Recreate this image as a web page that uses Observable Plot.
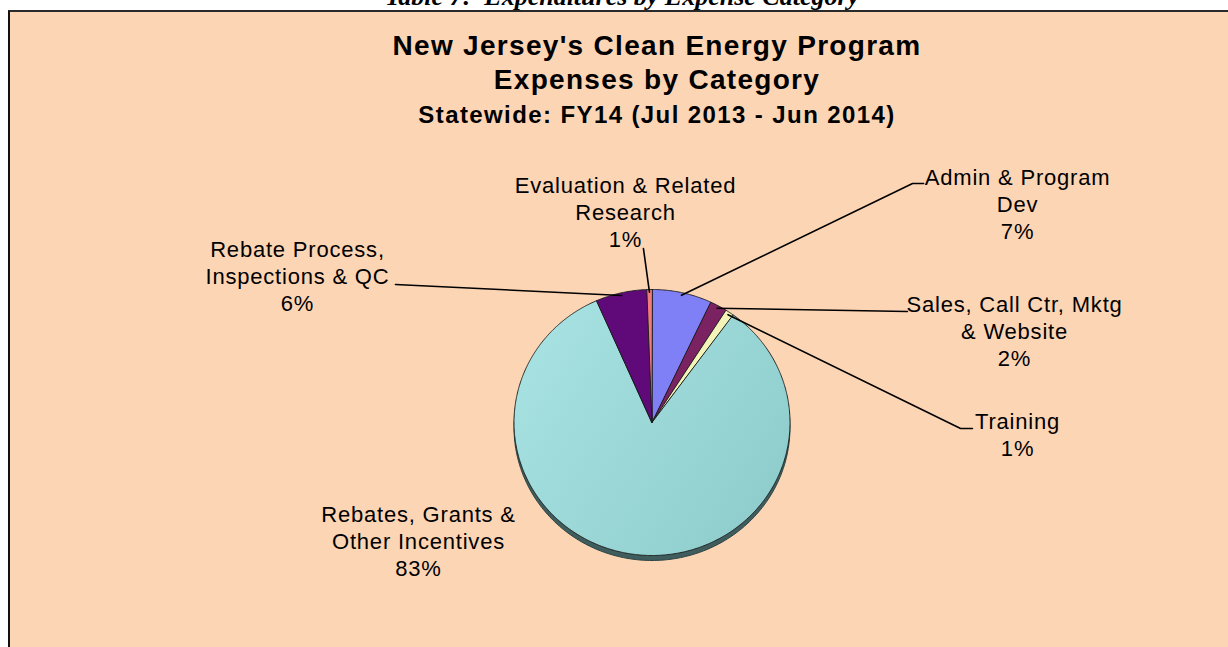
<!DOCTYPE html>
<html>
<head>
<meta charset="utf-8">
<script src="https://cdn.jsdelivr.net/npm/d3@7"></script>
<script src="https://cdn.jsdelivr.net/npm/@observablehq/plot@0.6"></script>
<style>
  html, body { margin: 0; padding: 0; background: #ffffff; }
  body { width: 1228px; height: 647px; overflow: hidden; position: relative; }
  #caption {
    position: absolute; left: 0; width: 1244px; top: -16px; height: 26px;
    text-align: center; font-family: "Liberation Serif", "Times New Roman", serif;
    font-weight: bold; font-style: italic; font-size: 26px; line-height: 26px; color: #000;
    white-space: nowrap;
  }
  #box {
    position: absolute; left: 8px; top: 10px; right: -4px; bottom: -4px;
    border-top: 2px solid #2a2a2a; border-left: 2px solid #111;
    background: #FCD5B5; overflow: hidden;
  }
  .t { position: absolute; left: -10px; width: 1314px; text-align: center;
       font-family: "Liberation Sans", Arial, sans-serif; font-weight: bold; color: #000;
       white-space: nowrap; }
  #t1 { top: 18px; font-size: 28px; letter-spacing: 1.3px; line-height: 32px; }
  #t2 { top: 52px; font-size: 28px; letter-spacing: 1.3px; line-height: 32px; }
  #t3 { top: 89px; font-size: 24px; letter-spacing: 1.4px; line-height: 27px; }
  #plot { position: absolute; left: 0px; top: 128px; }
</style>
</head>
<body>
<div id="caption">Table 7:&nbsp; Expenditures by Expense Category</div>
<div id="box">
  <div class="t" id="t1">New Jersey's Clean Energy Program</div>
  <div class="t" id="t2">Expenses by Category</div>
  <div class="t" id="t3">Statewide: FY14 (Jul 2013 - Jun 2014)</div>
  <div id="plot"></div>
</div>
<script>
// ---- data ----
const categories = [
  "Admin & Program\nDev",
  "Sales, Call Ctr, Mktg\n& Website",
  "Training",
  "Rebates, Grants &\nOther Incentives",
  "Rebate Process,\nInspections & QC",
  "Evaluation & Related\nResearch"
];
const values = [7.0, 2.0, 1.0, 83.4, 6.0, 0.6];
const percentLabels = ["7%", "2%", "1%", "83%", "6%", "1%"];

// ---- style / layout (in pie-radius units) ----
const sliceFills = ["#8080F6", "#7A2262", "#F4F4B8", "url(#tealGrad)", "#600A7A", "#F07C7C"];
const labelX = [2.649, 2.627, 2.649, -1.692, -2.569, -0.192];
const labelY = [1.647, 0.692, -0.086, -0.887, 1.105, 1.586];
// leader line points after the rim point (null = no leader)
const leaderPts = [
  [[1.888, 1.797], [1.968, 1.797]],
  [[1.851, 0.835]],
  [[2.236, -0.045], [2.322, -0.045]],
  null,
  [[-1.859, 1.038]],
  [[-0.062, 1.308]]
];

// ---- geometry from data ----
const arcs = d3.pie().sort(null).value(d => d)(values);
const slicePts = [];
arcs.forEach((p, i) => {
  const n = Math.max(2, Math.ceil((p.endAngle - p.startAngle) / (Math.PI / 360)));
  slicePts.push({i, x: 0, y: 0});
  for (let k = 0; k <= n; k++) {
    const a = p.startAngle + (p.endAngle - p.startAngle) * k / n;
    slicePts.push({i, x: Math.sin(a), y: Math.cos(a)});
  }
});
const rim = d3.range(0, 361).map(k => ({x: Math.sin(k * Math.PI / 180), y: Math.cos(k * Math.PI / 180)}));
const leaders = [];
arcs.forEach((p, i) => {
  if (!leaderPts[i]) return;
  const m = (p.startAngle + p.endAngle) / 2;
  leaders.push({i, x: Math.sin(m) * 0.98, y: Math.cos(m) * 0.98});
  leaderPts[i].forEach(([x, y]) => leaders.push({i, x, y}));
});
const labels = categories.map((c, i) => ({x: labelX[i], y: labelY[i], text: c + "\n" + percentLabels[i]}));

// svg sits at page (10, 140)
const cx = 641.5, cy = 282, rx = 138, ry = 133;
const chart = Plot.plot({
  width: 1220, height: 520, margin: 0,
  x: {domain: [-1, 1], range: [cx - rx, cx + rx], axis: null},
  y: {domain: [-1, 1], range: [cy + ry, cy - ry], axis: null},
  color: {type: "identity"},
  style: {background: "transparent", fontFamily: "'Liberation Sans', Arial, sans-serif", overflow: "visible"},
  marks: [
    Plot.line(rim, {x: "x", y: "y", fill: "#3F5D5D", stroke: "#2E4545", strokeWidth: 1, curve: "linear-closed", dy: 5}),
    Plot.line(slicePts, {x: "x", y: "y", z: "i", fill: d => sliceFills[d.i], stroke: "#1a1a1a", strokeWidth: 0.9, strokeLinejoin: "round", curve: "linear-closed"}),
    Plot.line(leaders, {x: "x", y: "y", z: "i", stroke: "#000", strokeWidth: 1.6}),
    Plot.text(labels, {x: "x", y: "y", text: "text", fill: "#000", fontSize: 22, lineHeight: 1.23, lineAnchor: "middle", textAnchor: "middle"})
  ]
});
const svg = d3.select(chart);
svg.style("letter-spacing", "0.8px");
const defs = svg.insert("defs", ":first-child");
const g = defs.append("linearGradient").attr("id", "tealGrad")
  .attr("x1", "0").attr("y1", "0.2").attr("x2", "1").attr("y2", "0.8");
g.append("stop").attr("offset", "0").attr("stop-color", "#A8E2E2");
g.append("stop").attr("offset", "1").attr("stop-color", "#8ECCCC");
document.getElementById("plot").appendChild(chart);
</script>
</body>
</html>
